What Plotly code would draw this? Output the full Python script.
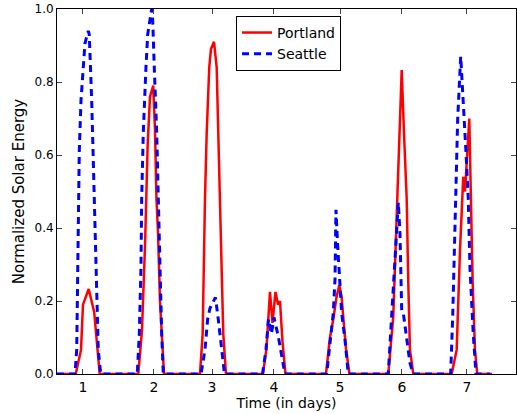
import plotly.graph_objects as go

# Time in days, normalized solar energy (vertices)
portland_t = [0.594, 0.886, 0.969, 1.0, 1.089, 1.175, 1.261,
              1.864, 1.922, 1.969, 2.011, 2.047, 2.098, 2.125, 2.148, 2.172, 2.203, 2.230, 2.266,
              2.828, 2.870, 2.906, 2.933, 2.973, 3.0, 3.047, 3.089, 3.114, 3.141, 3.167, 3.192, 3.234,
              3.8125, 3.867, 3.922, 3.961, 4.008, 4.047, 4.078, 4.117, 4.164,
              4.797, 4.859, 4.911, 4.961, 5.005, 5.042, 5.070, 5.109, 5.164,
              5.770, 5.848, 5.891, 5.927, 5.980, 6.016, 6.058, 6.083, 6.109, 6.161,
              6.761, 6.839, 6.891, 6.942, 6.969, 7.036, 7.063, 7.089, 7.125, 7.161, 7.391]
portland_e = [0, 0, 0.066, 0.19, 0.233, 0.17, 0,
              0, 0.12, 0.35, 0.63, 0.76, 0.79, 0.67, 0.48, 0.39, 0.2, 0.11, 0,
              0, 0.11, 0.48, 0.66, 0.84, 0.89, 0.91, 0.84, 0.66, 0.48, 0.29, 0.11, 0,
              0, 0.07, 0.225, 0.14, 0.225, 0.19, 0.2, 0.09, 0,
              0, 0.1, 0.15, 0.21, 0.244, 0.21, 0.15, 0.07, 0,
              0, 0.157, 0.385, 0.57, 0.833, 0.66, 0.48, 0.25, 0.066, 0,
              0, 0.066, 0.34, 0.54, 0.50, 0.70, 0.43, 0.25, 0.066, 0, 0]

seattle_t = [0.594, 0.875, 0.902, 0.917, 0.927, 0.942, 0.969, 1.005, 1.031, 1.083, 1.098, 1.136, 1.172, 1.214, 1.239, 1.277,
             1.848, 1.880, 1.906, 1.917, 1.942, 1.984, 2.011, 2.073, 2.089, 2.114, 2.152, 2.177, 2.203, 2.230, 2.255,
             2.844, 2.906, 2.948, 2.984, 3.070, 3.114, 3.167, 3.211,
             3.805, 3.859, 3.898, 3.945, 3.984, 4.055, 4.105, 4.156,
             4.808, 4.859, 4.911, 4.938, 4.953, 4.980, 5.005, 5.042, 5.094, 5.145,
             5.770, 5.848, 5.891, 5.927, 5.953, 5.980, 6.005, 6.058, 6.109, 6.161,
             6.745, 6.777, 6.813, 6.855, 6.902, 6.942, 6.984, 7.020, 7.047, 7.098, 7.141, 7.359]
seattle_e = [0, 0, 0.066, 0.25, 0.43, 0.61, 0.75, 0.84, 0.906, 0.94, 0.93, 0.75, 0.52, 0.25, 0.066, 0,
             0, 0.11, 0.29, 0.48, 0.66, 0.84, 0.93, 1.0, 0.97, 0.84, 0.66, 0.48, 0.29, 0.11, 0,
             0, 0.066, 0.15, 0.18, 0.21, 0.15, 0.066, 0,
             0, 0.066, 0.15, 0.11, 0.155, 0.1, 0.05, 0,
             0, 0.093, 0.167, 0.26, 0.45, 0.35, 0.26, 0.167, 0.093, 0,
             0, 0.25, 0.385, 0.47, 0.385, 0.175, 0.167, 0.093, 0.03, 0,
             0, 0.157, 0.43, 0.70, 0.87, 0.75, 0.61, 0.48, 0.29, 0.11, 0, 0]

day_tick_pos = [1.0, 2.109, 3.016, 3.984, 5.016, 5.984, 7.0]
day_tick_labels = ["1", "2", "3", "4", "5", "6", "7"]
energy_ticks = [0.0, 0.2, 0.4, 0.6, 0.8, 1.0]

fig = go.Figure()
fig.add_trace(go.Scatter(x=portland_t, y=portland_e, mode="lines", name="Portland",
                         line=dict(color="#ff0000", width=2.5), cliponaxis=False))
fig.add_trace(go.Scatter(x=seattle_t, y=seattle_e, mode="lines", name="Seattle",
                         line=dict(color="#0000ff", width=3, dash="7px,5px"), cliponaxis=False))

fig.update_layout(
    width=517, height=414,
    margin=dict(l=57, r=1, t=9, b=40),
    paper_bgcolor="white", plot_bgcolor="white",
    font=dict(family="DejaVu Sans", color="black", size=12),
    showlegend=True,
    legend=dict(x=0.39, y=0.981, xanchor="left", yanchor="top",
                bordercolor="black", borderwidth=1, bgcolor="white",
                font=dict(size=14)),
    xaxis=dict(range=[0.594, 7.766], tickvals=day_tick_pos, ticktext=day_tick_labels,
               ticks="inside", ticklen=5, tickcolor="#444", showline=True, linecolor="black",
               linewidth=1, mirror="ticks", showgrid=False, zeroline=False,
               tickfont=dict(size=14),
               title=dict(text="Time (in days)", font=dict(size=14), standoff=4)),
    yaxis=dict(range=[0, 1.0], tickvals=energy_ticks, tickformat=".1f",
               ticks="inside", ticklen=5, tickcolor="#444", showline=True, linecolor="black",
               linewidth=1, mirror="ticks", showgrid=False, zeroline=False,
               tickfont=dict(size=12),
               title=dict(text="Normalized Solar Energy", font=dict(size=15), standoff=6)),
)

fig.write_html("out.html")
